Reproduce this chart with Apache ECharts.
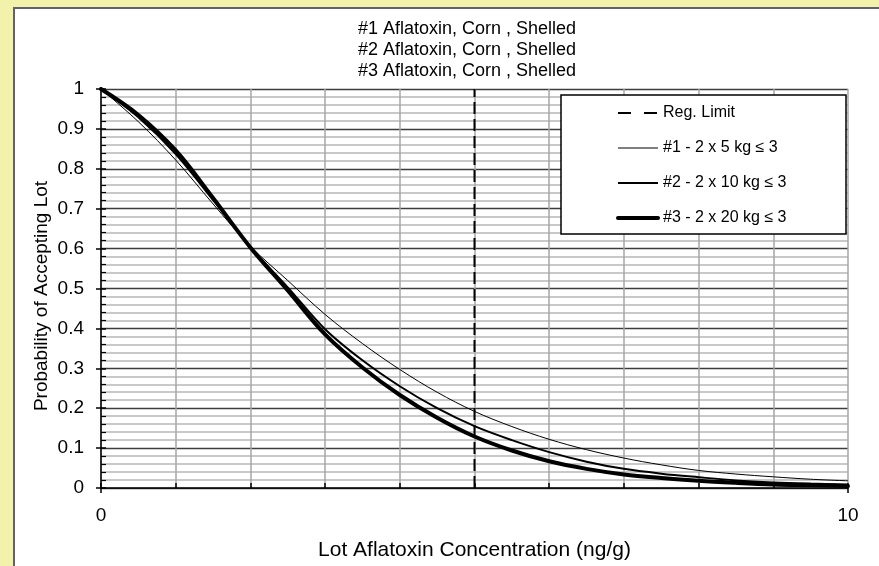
<!DOCTYPE html>
<html>
<head>
<meta charset="utf-8">
<script src="https://cdn.jsdelivr.net/npm/echarts@6/dist/echarts.min.js"></script>
<style>
  html, body { margin: 0; padding: 0; width: 879px; height: 566px; overflow: hidden; background: #f2f2ab; }
  #panel { position: absolute; left: 13px; top: 7px; width: 900px; height: 600px; background: #ffffff;
           border-left: 2px solid #62626e; border-top: 2px solid #62626e; }
  #chart { position: absolute; left: 0; top: 0; width: 879px; height: 566px; }
</style>
</head>
<body>
<div id="panel"></div>
<div id="chart"></div>
<script>
// Lot aflatoxin concentration (ng/g)
const concentration = [0, 0.5, 1, 1.5, 2, 2.5, 3, 3.5, 4, 4.5, 5, 5.5, 6, 6.5, 7, 7.5, 8, 8.5, 9, 9.5, 10];
// Probability of accepting the lot for each sampling plan
const plan1 = [1, 0.918, 0.822, 0.712, 0.606, 0.52, 0.435, 0.362, 0.297, 0.24, 0.192, 0.154, 0.122, 0.096, 0.075, 0.058, 0.044, 0.035, 0.028, 0.022, 0.018];
const plan2 = [1, 0.929, 0.837, 0.722, 0.604, 0.503, 0.398, 0.32, 0.255, 0.2, 0.155, 0.12, 0.09, 0.066, 0.048, 0.036, 0.027, 0.019, 0.014, 0.011, 0.009];
const plan3 = [1, 0.935, 0.846, 0.727, 0.603, 0.495, 0.385, 0.302, 0.233, 0.176, 0.129, 0.094, 0.067, 0.048, 0.034, 0.025, 0.018, 0.013, 0.009, 0.007, 0.005];
// Regulatory limit (ng/g)
const regLimit = 5;
const seriesNames = ['Reg. Limit', '#1 - 2 x 5 kg \u2264 3', '#2 - 2 x 10 kg \u2264 3', '#3 - 2 x 20 kg \u2264 3'];
const titleLines = ['#1 Aflatoxin, Corn , Shelled', '#2 Aflatoxin, Corn , Shelled', '#3 Aflatoxin, Corn , Shelled'];
const xTickLabels = ['0', '10'];
const xAxisTitle = 'Lot Aflatoxin Concentration (ng/g)';
const yAxisTitle = 'Probability of Accepting Lot';

const FONT = "'Liberation Sans', Arial, sans-serif";
const pairs = ys => concentration.map((x, i) => [x, ys[i]]);

const chart = echarts.init(document.getElementById('chart'), null, { renderer: 'canvas' });
chart.setOption({
  backgroundColor: 'transparent',
  animation: false,
  textStyle: { fontFamily: FONT, color: '#000' },
  title: {
    text: titleLines.join('\n'),
    left: 358, top: 19, padding: 0,
    textStyle: { fontFamily: FONT, fontSize: 18, fontWeight: 'normal', color: '#000', lineHeight: 21 }
  },
  graphic: [{
    type: 'rect', z: 5,
    shape: { x: 561, y: 95, width: 285, height: 139 },
    style: { fill: '#fff', stroke: '#000', lineWidth: 1.5 }
  }, {
    // vertical axis title
    type: 'text', z: 5,
    x: 42, y: 296, rotation: Math.PI / 2,
    style: { text: yAxisTitle, fill: '#000', font: "19px 'Liberation Sans', Arial, sans-serif",
             align: 'center', verticalAlign: 'middle' }
  }],
  legend: {
    orient: 'vertical', left: 616, top: 105, padding: 0, z: 10,
    itemWidth: 40, itemHeight: 16, itemGap: 19,
    textStyle: { fontFamily: FONT, fontSize: 16, color: '#000', lineHeight: 16 },
    lineStyle: { width: 'inherit' },
    itemStyle: { opacity: 0, borderWidth: 0 },
    data: [
      { name: seriesNames[0], lineStyle: { type: [13, 13], width: 2 } },
      { name: seriesNames[1] },
      { name: seriesNames[2] },
      { name: seriesNames[3] }
    ]
  },
  grid: { left: 101, top: 89, right: 31, bottom: 78, outerBoundsMode: 'none' },
  xAxis: [{
    type: 'value', min: 0, max: 10, interval: 1,
    name: xAxisTitle, nameLocation: 'middle', nameGap: 52,
    nameTextStyle: { fontFamily: FONT, fontSize: 21, color: '#000' },
    axisLine: { lineStyle: { color: '#000', width: 1.5 } },
    axisTick: { inside: true, length: 5, lineStyle: { color: '#000', width: 1.5 } },
    axisLabel: { show: false },
    splitLine: { show: true, lineStyle: { color: '#a6a6a6', width: 1.5 } }
  }, {
    type: 'value', min: 0, max: 10, interval: 10, position: 'bottom',
    axisLine: { show: false },
    axisTick: { show: true, length: 5, lineStyle: { color: '#000', width: 1.5 } },
    axisLabel: { margin: 18, fontFamily: FONT, fontSize: 19, color: '#000',
                 formatter: v => v === 0 ? xTickLabels[0] : xTickLabels[1] },
    splitLine: { show: false }
  }],
  yAxis: [{
    type: 'value', min: 0, max: 1, interval: 0.1,
    axisLine: { show: true, lineStyle: { color: '#000', width: 1.5 } },
    axisTick: { show: true, length: 5, lineStyle: { color: '#000', width: 1.5 } },
    axisLabel: { margin: 17, fontFamily: FONT, fontSize: 19, color: '#000',
                 formatter: v => String(Math.round(v * 10) / 10) },
    splitLine: { show: true, lineStyle: { color: '#3c3c3c', width: 1.3 } },
    minorTick: { show: false, splitNumber: 5 },
    minorSplitLine: { show: true, lineStyle: { color: '#b8b8b8', width: 1.5 } }
  }, {
    type: 'value', min: 0, max: 1, interval: 0.1, position: 'left',
    axisLine: { show: false },
    axisLabel: { show: false },
    axisTick: { show: true, inside: true, length: 5, lineStyle: { color: '#000', width: 1.5 } },
    minorTick: { show: true, splitNumber: 5, length: 5, lineStyle: { color: '#000', width: 1.2 } },
    splitLine: { show: false }
  }],
  series: [{
    name: seriesNames[0], type: 'line', symbol: 'none', z: 3,
    data: [[regLimit, 0], [regLimit, 1]],
    itemStyle: { color: '#000' },
    lineStyle: { color: '#000', width: 2, type: [12, 5] }
  }, {
    name: seriesNames[1], type: 'line', symbol: 'none', smooth: 0.35,
    data: pairs(plan1),
    itemStyle: { color: '#000' },
    lineStyle: { color: '#000', width: 1 }
  }, {
    name: seriesNames[2], type: 'line', symbol: 'none', smooth: 0.35,
    data: pairs(plan2),
    itemStyle: { color: '#000' },
    lineStyle: { color: '#000', width: 2 }
  }, {
    name: seriesNames[3], type: 'line', symbol: 'none', smooth: 0.35,
    data: pairs(plan3),
    itemStyle: { color: '#000' },
    lineStyle: { color: '#000', width: 4, cap: 'round' }
  }]
});
</script>
</body>
</html>
